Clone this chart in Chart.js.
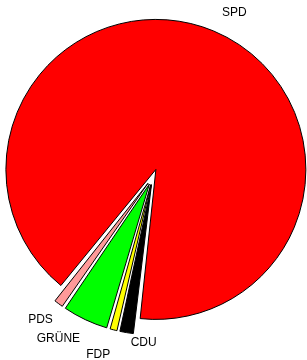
<!DOCTYPE html>
<html>
<head>
<meta charset="utf-8">
<script src="https://cdn.jsdelivr.net/npm/chart.js@4/dist/chart.umd.min.js"></script>
<style>
  html, body { margin: 0; padding: 0; background: #fff; }
  canvas { display: block; }
</style>
</head>
<body>
<canvas id="pie" width="307" height="360"></canvas>
<script>
const parties = ["SPD", "CDU", "FDP", "GRÜNE", "PDS"];
const shares = [91.03, 1.69, 1.0, 5.06, 1.22];
const colors = ["#ff0000", "#000000", "#ffff00", "#00ff00", "#ff9999"];

// label nudges so the small party names don't collide (degrees / px from rim)
const labelTurn = [3.8, -6.4, 2.7, 5.0, 1.5];
const labelGap = [33, 16, 36, 37, 32];

const rim = 150;
const explode = 8;

// chart.js moves an arc by offset/4 and also grows its radius by
// offset/4 * (1 - sin(sweep)); shrink the radius back so every slice
// keeps the same size and is only pulled out
const explodeFix = {
  id: "explodeFix",
  beforeDatasetsDraw(chart) {
    chart.getDatasetMeta(0).data.forEach(arc => {
      const fix = 1 - Math.sin(Math.min(Math.PI, arc.circumference || 0));
      arc.outerRadius = rim - explode * fix;
    });
  }
};

const rimLabels = {
  id: "rimLabels",
  afterDatasetsDraw(chart) {
    const ctx = chart.ctx;
    const arcs = chart.getDatasetMeta(0).data;
    ctx.save();
    ctx.font = "12px 'Liberation Sans', Arial, sans-serif";
    ctx.fillStyle = "#000";
    ctx.textAlign = "center";
    ctx.textBaseline = "middle";
    arcs.forEach((arc, i) => {
      const p = arc.getProps(["x", "y", "startAngle", "endAngle"], true);
      const mid = (p.startAngle + p.endAngle) / 2 + labelTurn[i] * Math.PI / 180;
      const r = rim + labelGap[i];
      ctx.fillText(chart.data.labels[i], p.x + Math.cos(mid) * r, p.y + Math.sin(mid) * r);
    });
    ctx.restore();
  }
};

new Chart(document.getElementById("pie"), {
  type: "pie",
  data: {
    labels: parties,
    datasets: [{
      data: shares,
      backgroundColor: colors,
      borderColor: "#000",
      borderWidth: 1,
      offset: explode * 4
    }]
  },
  options: {
    responsive: false,
    animation: false,
    rotation: 218.8,
    radius: rim,
    layout: { padding: { left: 0, right: 1.4, top: 0, bottom: 6.4 } },
    plugins: {
      legend: { display: false },
      tooltip: { enabled: false }
    }
  },
  plugins: [explodeFix, rimLabels]
});
</script>
</body>
</html>
